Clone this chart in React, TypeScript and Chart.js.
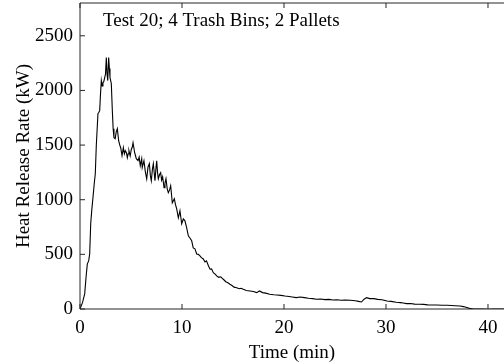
import React, { useEffect, useRef } from "react";
import { Chart, registerables } from "chart.js";

Chart.register(...registerables);

const TITLE = "Test 20; 4 Trash Bins; 2 Pallets";
const X_LABEL = "Time (min)";
const Y_LABEL = "Heat Release Rate (kW)";
const X_TICKS = [0, 10, 20, 30, 40];
const Y_TICKS = [0, 500, 1000, 1500, 2000, 2500];

const timeMin = [
  0, 0.25, 0.46, 0.6, 0.72, 0.85, 0.95, 1.05, 1.15, 1.27, 1.4, 1.5, 1.6, 1.76, 1.85, 1.93, 2.0, 2.09, 2.17, 2.25,
  2.33, 2.42, 2.5, 2.58, 2.65, 2.72, 2.81, 2.88, 2.94, 3.07, 3.17, 3.25, 3.33, 3.45, 3.55, 3.66, 3.79, 3.9, 3.99,
  4.12, 4.25, 4.35, 4.44, 4.55, 4.64, 4.72, 4.8, 4.92, 5.03, 5.12, 5.2, 5.36, 5.45, 5.52, 5.69, 5.8, 5.91, 6.05,
  6.1, 6.27, 6.4, 6.54, 6.67, 6.8, 6.9, 6.99, 7.1, 7.19, 7.35, 7.45, 7.52, 7.6, 7.68, 7.8, 7.91, 8.0, 8.1, 8.24,
  8.33, 8.43, 8.55, 8.66, 8.78, 8.89, 9.05, 9.15, 9.25, 9.35, 9.48, 9.64, 9.8, 9.97, 10.13, 10.29, 10.46, 10.62,
  10.78, 10.95, 11.1, 11.27, 11.44, 11.6, 11.76, 11.9, 12.09, 12.25, 12.4, 12.6, 12.75, 12.9, 13.07, 13.25, 13.4,
  13.6, 13.8, 14.05, 14.3, 14.5, 14.7, 14.9, 15.1, 15.36, 15.6, 15.8, 16.0, 16.3, 16.67, 17.0, 17.32, 17.6, 17.9,
  18.2, 18.6, 19.0, 19.3, 19.7, 20.1, 20.5, 20.8, 21.2, 21.6, 22.0, 22.4, 22.8, 23.2, 23.6, 24.0, 24.4, 24.8, 25.2,
  25.6, 26.0, 26.5, 27.0, 27.3, 27.6, 27.85, 28.1, 28.4, 28.8, 29.2, 29.6, 30.1, 30.5, 31.0, 31.4, 31.7, 32.0,
  32.4, 32.8, 33.3, 33.7, 34.1, 34.6, 35.0, 35.5, 36.0, 36.4, 36.8, 37.25, 37.6, 37.9, 38.2, 38.5, 38.9, 39.5,
  40.0, 40.5, 41.0, 41.6,
];

const hrrKW = [
  0, 60, 138, 300, 413, 440, 504, 780, 900, 1018, 1150, 1238, 1500, 1788, 1800, 1815, 1950, 2090, 2040, 2072,
  2080, 2118, 2150, 2300, 2150, 2090, 2300, 2200, 2118, 2063, 1815, 1650, 1568, 1559, 1620, 1650, 1540, 1500, 1476,
  1403, 1476, 1420, 1449, 1430, 1385, 1420, 1449, 1400, 1460, 1480, 1522, 1430, 1400, 1375, 1357, 1390, 1311, 1375,
  1293, 1357, 1260, 1192, 1300, 1330, 1220, 1174, 1280, 1330, 1174, 1290, 1357, 1250, 1192, 1230, 1247, 1180, 1210, 1110,
  1150, 1192, 1100, 1064, 1090, 1128, 972, 990, 1009, 960, 917, 834, 899, 779, 825, 807, 743, 669,
  650, 624, 559, 550, 504, 500, 486, 470, 458, 430, 440, 394, 364, 367, 333, 320, 303,
  290, 295, 272, 250, 240, 226, 215, 200, 195, 185, 190, 180, 170, 165, 160, 150, 165, 150,
  145, 135, 130, 128, 125, 119, 115, 110, 104, 110, 104, 98, 95, 89, 92, 86, 88, 83, 85,
  80, 83, 80, 75, 70, 64, 90, 104, 95, 95, 88, 85, 73, 70, 62, 58, 55, 49,
  50, 45, 43, 42, 38, 37, 36, 35, 34, 32, 30, 28, 22, 14, 6, 2, 0, 0,
  -2, 0, 0, 0,
];

const FONT = "'Liberation Serif', 'DejaVu Serif', serif";
const FONT_SIZE = 19;
const AXIS_COLOR = "#262626";

const boxPlugin = {
  id: "boxTicks",
  afterDraw(chart: any) {
    const { ctx, chartArea, scales } = chart;
    const { left, top, right, bottom } = chartArea;
    ctx.save();
    ctx.strokeStyle = AXIS_COLOR;
    ctx.lineWidth = 1;
    ctx.beginPath();
    ctx.moveTo(left, top);
    ctx.lineTo(right + 5, top);
    ctx.moveTo(left, top);
    ctx.lineTo(left, bottom);
    ctx.lineTo(right + 5, bottom);
    const tl = 5;
    for (const v of X_TICKS) {
      const px = scales.x.getPixelForValue(v);
      ctx.moveTo(px, bottom);
      ctx.lineTo(px, bottom - tl);
      ctx.moveTo(px, top);
      ctx.lineTo(px, top + tl);
    }
    for (const v of Y_TICKS) {
      const py = scales.y.getPixelForValue(v);
      ctx.moveTo(left, py);
      ctx.lineTo(left + tl, py);
    }
    ctx.stroke();
    ctx.fillStyle = "#000";
    ctx.font = `${FONT_SIZE}px ${FONT}`;
    ctx.textBaseline = "alphabetic";
    ctx.textAlign = "left";
    ctx.fillText(TITLE, left + 23, top + 23);
    ctx.restore();
  },
};

export default function App() {
  const ref = useRef<HTMLCanvasElement | null>(null);
  useEffect(() => {
    if (!ref.current) return;
    const chart = new Chart(ref.current, {
      type: "line",
      data: {
        datasets: [
          {
            data: timeMin.map((t, i) => ({ x: t, y: hrrKW[i] })),
            borderColor: "#000",
            borderWidth: 1.1,
            pointRadius: 0,
            tension: 0,
            fill: false,
          },
        ],
      },
      options: {
        animation: false,
        responsive: false,
        maintainAspectRatio: false,
        layout: { padding: { top: 3, right: 0, left: 0, bottom: 0 } },
        plugins: { legend: { display: false }, tooltip: { enabled: false }, title: { display: false } },
        scales: {
          x: {
            type: "linear",
            min: 0,
            max: 41.57,
            afterBuildTicks: (s: any) => {
              s.ticks = X_TICKS.map((v) => ({ value: v }));
            },
            afterFit: (s: any) => {
              s.height = 55;
              s.paddingLeft = 0;
              s.paddingRight = 0;
            },
            grid: { display: false, drawTicks: false },
            border: { display: false },
            ticks: {
              color: "#000",
              font: { family: FONT, size: FONT_SIZE },
              padding: 8,
              maxRotation: 0,
              callback: (v: any) => String(v),
            },
            title: { display: true, text: X_LABEL, color: "#000", font: { family: FONT, size: FONT_SIZE }, padding: 0 },
          },
          y: {
            type: "linear",
            min: 0,
            max: 2800,
            afterBuildTicks: (s: any) => {
              s.ticks = Y_TICKS.map((v) => ({ value: v }));
            },
            afterFit: (s: any) => {
              s.width = 80;
              s.paddingTop = 0;
              s.paddingBottom = 0;
            },
            grid: { display: false, drawTicks: false },
            border: { display: false },
            ticks: {
              color: "#000",
              font: { family: FONT, size: FONT_SIZE },
              padding: 7,
              callback: (v: any) => String(v),
            },
            title: {
              display: true,
              text: Y_LABEL,
              color: "#000",
              font: { family: FONT, size: FONT_SIZE },
              padding: { top: 13, bottom: 0 },
            },
          },
        },
      },
      plugins: [boxPlugin],
    });
    return () => chart.destroy();
  }, []);
  return (
    <div style={{ position: "absolute", left: 0, top: 0, width: 504, height: 364, background: "#fff" }}>
      <canvas ref={ref} width={504} height={364} style={{ width: 504, height: 364, display: "block" }} />
    </div>
  );
}
